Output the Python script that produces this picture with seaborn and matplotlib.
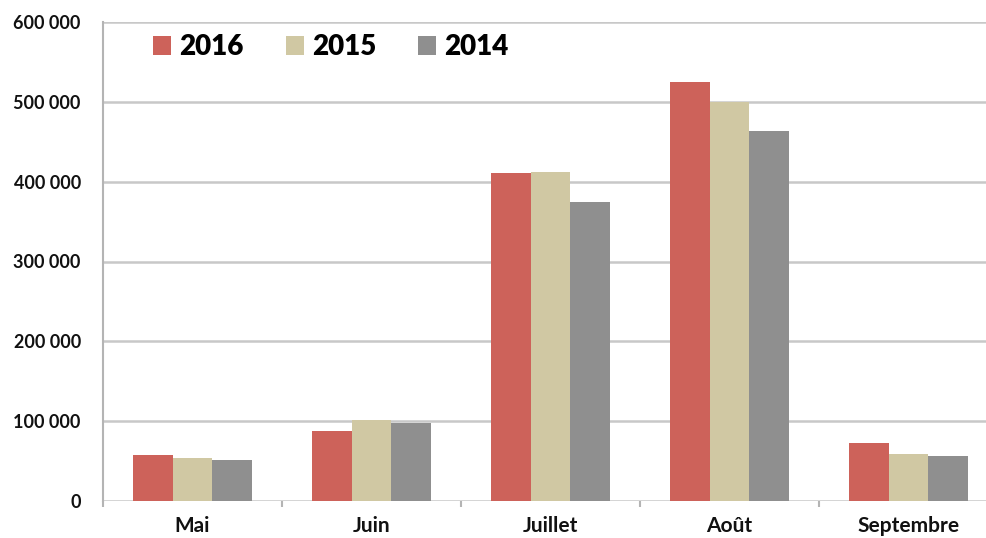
import matplotlib
matplotlib.use("Agg")
import matplotlib.pyplot as plt
import seaborn as sns
import pandas as pd
from matplotlib.ticker import FixedLocator, FuncFormatter

months = ["Mai", "Juin", "Juillet", "Août", "Septembre"]
years = ["2016", "2015", "2014"]
v2016 = [58000, 88000, 411000, 525000, 73000]
v2015 = [54000, 101500, 412000, 500000, 59000]
v2014 = [51500, 98000, 375000, 464000, 56500]
colors = ["#CD625A", "#D0C8A3", "#8F8F8F"]

rows = []
for yr, vals in zip(years, [v2016, v2015, v2014]):
    for m, v in zip(months, vals):
        rows.append({"mois": m, "annee": yr, "valeur": v})
df = pd.DataFrame(rows)

sns.set_theme(style="white")
plt.rcParams["font.family"] = ["Lato", "DejaVu Sans"]

fig = plt.figure(figsize=(9.86, 5.38), dpi=100)
ax = fig.add_axes([103/986, 1 - 501/538, 1 - 103/986, (501 - 22)/538])

sns.barplot(data=df, x="mois", y="valeur", hue="annee", hue_order=years,
            order=months, palette=colors, width=0.665, saturation=1,
            linewidth=0, ax=ax, zorder=3)

ax.set_ylim(0, 600000)
ax.set_xlim(-0.5, (986 - 103) / 179 - 0.5)
ax.yaxis.set_major_locator(FixedLocator(range(0, 600001, 100000)))
ax.yaxis.set_major_formatter(FuncFormatter(lambda v, p: f"{int(v):,}".replace(",", " ")))
ax.grid(axis="y", color="#C8C8C8", linewidth=1.8, zorder=0)
ax.set_axisbelow(True)

for s in ["top", "right", "bottom"]:
    ax.spines[s].set_visible(False)
ax.spines["left"].set_color("#B4B4B4")
ax.spines["left"].set_linewidth(1.5)

ax.set_xlabel("")
ax.set_ylabel("")
ax.tick_params(axis="y", which="major", length=6, width=1.5, color="#B4B4B4",
               pad=10, labelsize=13, labelcolor="#111111")
ax.tick_params(axis="x", which="major", length=0, pad=11, labelsize=15,
               labelcolor="#111111")
ax.xaxis.set_minor_locator(FixedLocator([-0.5, 0.5, 1.5, 2.5, 3.5]))
ax.tick_params(axis="x", which="minor", length=4, width=1.5, color="#B4B4B4",
               bottom=True)
for lab in ax.get_xticklabels() + ax.get_yticklabels():
    lab.set_fontweight("bold")

leg = ax.legend(loc="center left", bbox_to_anchor=(0.041, 0.948), ncol=3,
                frameon=False, handlelength=0.65, handleheight=0.68,
                handletextpad=0.3, columnspacing=1.5, borderpad=0,
                prop={"weight": "heavy", "size": 20})
for t in leg.get_texts():
    t.set_color("#000000")

fig.savefig("out.png", dpi=100, facecolor="white")
